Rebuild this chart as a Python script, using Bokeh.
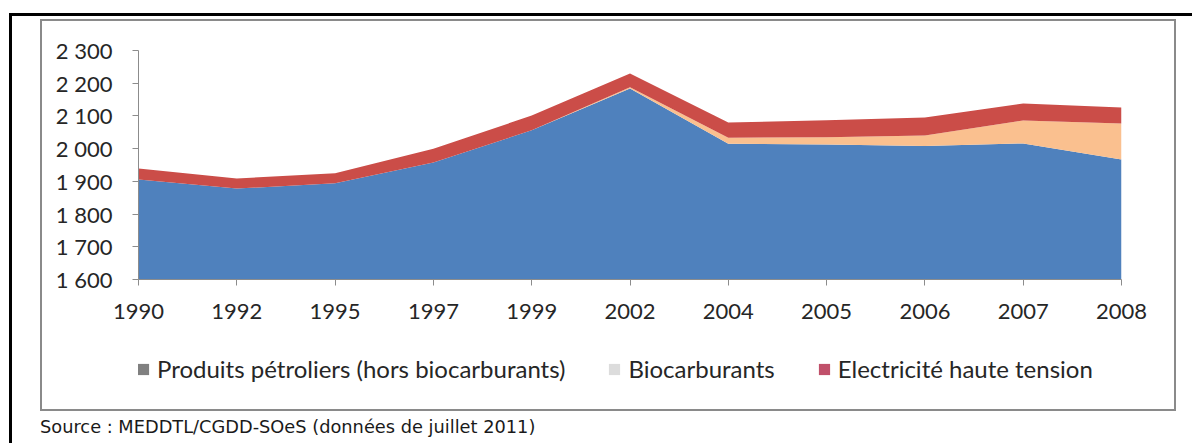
from bokeh.plotting import figure
from bokeh.models import (ColumnDataSource, Range1d, FixedTicker, Legend, LegendItem, Div)
from bokeh.layouts import column
from bokeh.embed import file_html
from bokeh.resources import INLINE

# ---- data ----
years = ["1990", "1992", "1995", "1997", "1999", "2002", "2004", "2005", "2006", "2007", "2008"]
petrole = [1906, 1878, 1894, 1958, 2056, 2184, 2015, 2013, 2008, 2016, 1967]
bio = [0, 0, 0, 0, 0, 4, 18, 22, 32, 70, 110]
elec = [33, 31, 31, 42, 45, 42, 47, 52, 55, 52, 49]

y_ticks = [1600, 1700, 1800, 1900, 2000, 2100, 2200, 2300]
y_tick_labels = ["1 600", "1 700", "1 800", "1 900", "2 000", "2 100", "2 200", "2 300"]

series_names = ["Produits pétroliers (hors biocarburants)", "Biocarburants", "Electricité haute tension"]
area_colors = ["#4F81BD", "#FAC08F", "#CB4D48"]
legend_colors = ["#808080", "#DCDCDC", "#C0506A"]
source_text = "Source : MEDDTL/CGDD-SOeS (données de juillet 2011)"

# ---- chart figure ----
x = list(range(len(years)))
src = ColumnDataSource(dict(x=x, petrole=petrole, bio=bio, elec=elec))

W = 1132
p = figure(width=W, height=320, output_backend="svg", toolbar_location=None,
           x_range=Range1d(0, len(years) - 1), y_range=Range1d(y_ticks[0], y_ticks[-1]),
           min_border_left=96, min_border_right=53, min_border_top=29, min_border_bottom=62,
           margin=0)
p.outline_line_color = None
p.background_fill_color = "white"
p.border_fill_color = "white"

p.varea_stack(stackers=["petrole", "bio", "elec"], x="x", color=area_colors, source=src)

p.xgrid.visible = False
p.ygrid.visible = False

p.xaxis.ticker = FixedTicker(ticks=x)
p.xaxis.major_label_overrides = {i: yr for i, yr in enumerate(years)}
p.yaxis.ticker = FixedTicker(ticks=y_ticks)
p.yaxis.major_label_overrides = dict(zip(y_ticks, y_tick_labels))

for ax in (p.xaxis[0], p.yaxis[0]):
    ax.axis_line_color = "#8C8C8C"
    ax.axis_line_width = 1
    ax.major_tick_line_color = "#8C8C8C"
    ax.minor_tick_line_color = None
    ax.major_tick_in = 0
    ax.major_tick_out = 6
    ax.major_label_text_font = "Lato"
    ax.major_label_text_font_size = "22px"
    ax.major_label_text_color = "#262626"
p.yaxis.major_label_standoff = 20
p.xaxis.major_label_standoff = 18

# ---- legend figure (proxy renderers carry no visible data) ----
lf = figure(width=W, height=68, output_backend="svg", toolbar_location=None,
            x_range=Range1d(0, 1), y_range=Range1d(0, 1),
            x_axis_type=None, y_axis_type=None, min_border=0, margin=0)
lf.outline_line_color = None
lf.background_fill_color = "white"
lf.border_fill_color = "white"
lf.xgrid.visible = False
lf.ygrid.visible = False

nan = float("nan")
items = []
for name, col in zip(series_names, legend_colors):
    r = lf.scatter(x=[nan], y=[nan], marker="square", fill_color=col, line_color=None)
    items.append(LegendItem(label=name, renderers=[r]))
leg = Legend(items=items, location=(-9, 26), orientation="horizontal",
             padding=0, margin=0, spacing=35,
             glyph_width=28, glyph_height=28, label_height=12, label_standoff=0,
             border_line_color=None, background_fill_alpha=0,
             label_text_font="Lato", label_text_font_size="24px",
             label_text_color="#262626")
lf.add_layout(leg)

# ---- frames: gray box, black top/left rules, source line ----
white_box = column(p, lf, margin=(2, 2, 2, 2), styles={"background-color": "white"})
gray_box = column(white_box, margin=(3, 16, 0, 28), styles={"background-color": "#8A8A8A"})
source = Div(text=source_text, width=700, height=32, margin=(0, 0, 0, 28),
             styles={"font-family": "DejaVu Sans", "font-size": "17.8px",
                     "color": "#1A1A1A", "line-height": "32px", "white-space": "nowrap"})
inner = column(gray_box, source, margin=(3, 0, 0, 3), styles={"background-color": "white"})
root = column(inner, margin=(13, 0, 0, 9), styles={"background-color": "black"})

open("out.html", "w").write(file_html(root, INLINE))
